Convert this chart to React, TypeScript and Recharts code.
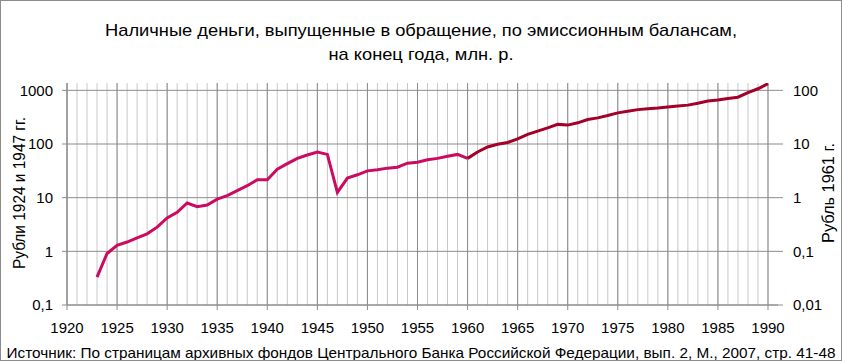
import { LineChart, Line, XAxis, YAxis, CartesianGrid } from 'recharts';

// Наличные деньги в обращении, млн. р. (рубли 1924 и 1947 гг.)
const oldYears = [
  1923, 1924, 1925, 1926, 1927, 1928, 1929, 1930, 1931, 1932, 1933, 1934, 1935,
  1936, 1937, 1938, 1939, 1940, 1941, 1942, 1943, 1944, 1945, 1946, 1947, 1948,
  1949, 1950, 1951, 1952, 1953, 1954, 1955, 1956, 1957, 1958, 1959, 1960,
];
const oldRubles = [
  0.33, 0.91, 1.29, 1.49, 1.79, 2.12, 2.82, 4.2, 5.35, 7.95, 6.8, 7.3, 9.4,
  10.9, 13.5, 16.7, 21.5, 21.5, 34, 43, 54, 62.5, 71, 64, 12.5, 23.2,
  26.7, 31.6, 33, 35.5, 37, 44, 45.8, 51, 54, 59, 64, 54,
];

// рубли 1961 г. (правая ось)
const newYears = [
  1960, 1961, 1962, 1963, 1964, 1965, 1966, 1967, 1968, 1969, 1970, 1971, 1972,
  1973, 1974, 1975, 1976, 1977, 1978, 1979, 1980, 1981, 1982, 1983, 1984, 1985,
  1986, 1987, 1988, 1989, 1990,
];
const newRubles = [
  5.4, 7.1, 8.8, 9.9, 10.7, 12.5, 15.1, 17.4, 20.0, 23.2, 22.5, 24.8, 28.6,
  30.7, 33.9, 38.0, 40.8, 43.7, 45.5, 46.7, 49.0, 51.0, 53.0, 57.5, 63.0, 66.0,
  70.5, 74.5, 90.5, 107, 133,
];

const xTicks = [1920, 1925, 1930, 1935, 1940, 1945, 1950, 1955, 1960, 1965, 1970, 1975, 1980, 1985, 1990];
const minorYears = Array.from({ length: 71 }, (_, i) => 1920 + i);
const leftTicks = [0.1, 1, 10, 100, 1000];
const rightTicks = [0.01, 0.1, 1, 10, 100];

const data = minorYears
  .filter((y) => y >= 1923)
  .map((year) => {
    const oi = oldYears.indexOf(year);
    const ni = newYears.indexOf(year);
    return {
      year,
      old: oi >= 0 ? oldRubles[oi] : undefined,
      fresh: ni >= 0 ? newRubles[ni] : undefined,
    };
  });

const FONT = '"Liberation Sans", Arial, sans-serif';
const fmt = (v: number) => String(v).replace('.', ',');

export default function App() {
  return (
    <div style={{ position: 'absolute', left: 0, top: 0, width: 842, height: 361, background: '#fff' }}>
      <LineChart
        width={842}
        height={361}
        data={data}
        margin={{ top: 83, right: 14, bottom: 26, left: 12 }}
      >
        <CartesianGrid
          horizontal={false}
          verticalValues={minorYears}
          stroke="#c8c8c8"
          strokeWidth={1}
        />
        <CartesianGrid
          horizontal={true}
          horizontalValues={leftTicks}
          verticalValues={xTicks}
          stroke="#8c8c8c"
          strokeWidth={1}
        />
        <XAxis
          dataKey="year"
          type="number"
          domain={[1920, 1991]}
          ticks={xTicks}
          interval={0}
          stroke="#8c8c8c"
          tickSize={5}
          tickMargin={12}
          tick={{ fill: '#000', fontSize: 15, fontFamily: FONT }}
          height={30}
        />
        <YAxis
          scale="log"
          domain={[0.1, 1370]}
          allowDataOverflow
          ticks={leftTicks}
          tickFormatter={fmt}
          stroke="#8c8c8c"
          tickSize={5}
          tickMargin={9}
          width={55}
          tick={{ fill: '#000', fontSize: 15, fontFamily: FONT }}
        />
        <YAxis
          yAxisId="right"
          orientation="right"
          scale="log"
          domain={[0.01, 137]}
          allowDataOverflow
          ticks={rightTicks}
          tickFormatter={fmt}
          axisLine={false}
          tickLine={{ stroke: '#8c8c8c' }}
          tickSize={5}
          tickMargin={10}
          width={50}
          tick={{ fill: '#000', fontSize: 15, fontFamily: FONT, textAnchor: 'start' }}
        />
        <Line
          dataKey="old"
          stroke="#cc0a62"
          strokeWidth={3}
          dot={false}
          connectNulls={false}
          isAnimationActive={false}
        />
        <Line
          yAxisId="right"
          dataKey="fresh"
          stroke="#a3002a"
          strokeWidth={3}
          dot={false}
          connectNulls={false}
          isAnimationActive={false}
        />
      </LineChart>
      <svg
        width={842}
        height={361}
        style={{ position: 'absolute', left: 0, top: 0, pointerEvents: 'none' }}
        fontFamily={FONT}
      >
        <text x={421} y={30} textAnchor="middle" dominantBaseline="central" fontSize={17} textLength={632} lengthAdjust="spacingAndGlyphs">
          Наличные деньги, выпущенные в обращение, по эмиссионным балансам,
        </text>
        <text x={421} y={54} textAnchor="middle" dominantBaseline="central" fontSize={17} textLength={185} lengthAdjust="spacingAndGlyphs">
          на конец года, млн. р.
        </text>
        <text x={421} y={352} textAnchor="middle" dominantBaseline="central" fontSize={15} textLength={829} lengthAdjust="spacingAndGlyphs">
          Источник: По страницам архивных фондов Центрального Банка Российской Федерации, вып. 2, М., 2007,  стр. 41-48
        </text>
        <text x={19} y={193} textAnchor="middle" dominantBaseline="central" fontSize={16} transform="rotate(-90 19 193)" textLength={152} lengthAdjust="spacingAndGlyphs">
          Рубли 1924 и 1947 гг.
        </text>
        <text x={828} y={193} textAnchor="middle" dominantBaseline="central" fontSize={16} transform="rotate(-90 828 193)" textLength={100} lengthAdjust="spacingAndGlyphs">
          Рубль 1961 г.
        </text>
        <rect x={0.5} y={0.5} width={841} height={360} fill="none" stroke="#8c8c8c" />
      </svg>
    </div>
  );
}
